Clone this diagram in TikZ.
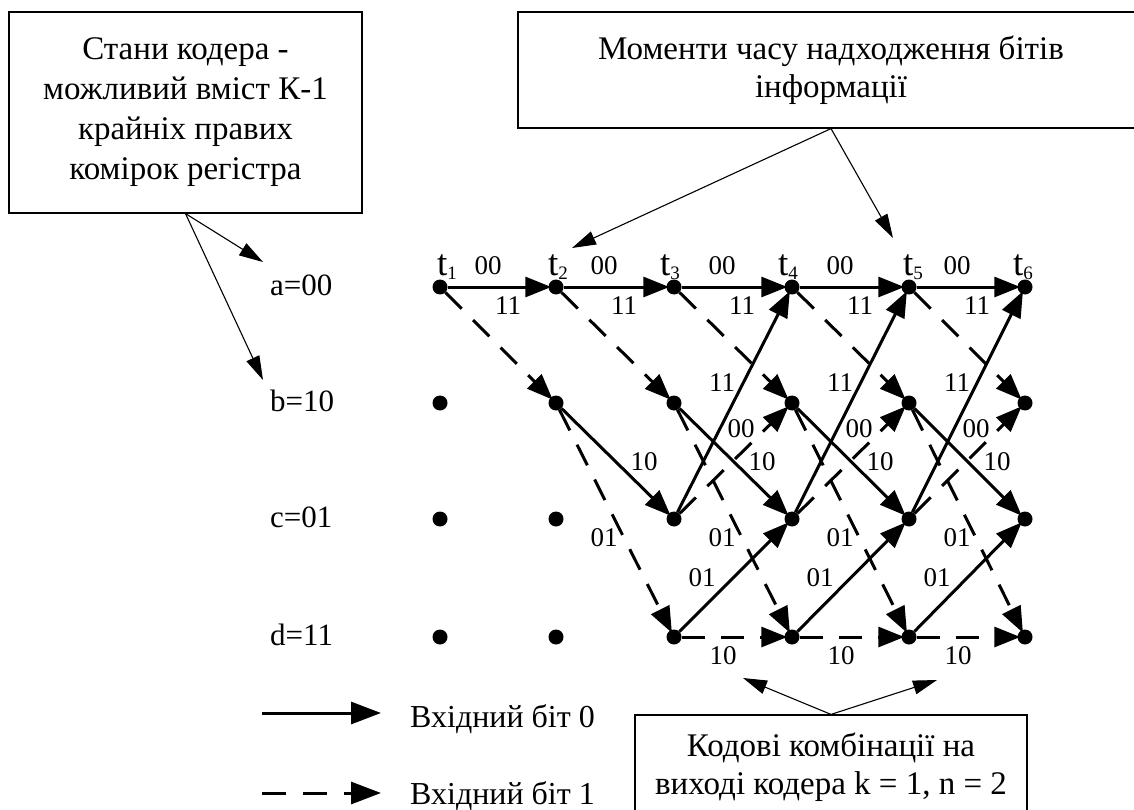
\documentclass[tikz,border=0pt]{standalone}
\usepackage{fontspec}
\setmainfont{Liberation Serif}
\usetikzlibrary{arrows.meta}
\newcommand\tsub[1]{\raisebox{-4pt}{\fontsize{19}{19}\selectfont #1}}
\begin{document}
\begin{tikzpicture}[x=1pt,y=-1pt,
  dot/.style={circle,fill=black,inner sep=0pt,minimum size=15pt},
  zero/.style={line width=3pt,-{Triangle[length=26pt,width=20pt]},shorten >=-3pt},
  one/.style={zero,dash pattern=on 23pt off 16pt},
  legzero/.style={line width=3pt,-{Triangle[length=30pt,width=22pt]}},
  legone/.style={legzero,dash pattern=on 24pt off 17pt},
  lbl/.style={inner sep=0pt,font=\fontsize{27}{27}\selectfont},
  tlab/.style={inner sep=0pt,anchor=base west,font=\fontsize{37}{37}\selectfont},
  st/.style={inner sep=0pt,anchor=west,font=\fontsize{31}{31}\selectfont},
  leg/.style={inner sep=0pt,anchor=west,font=\fontsize{32}{32}\selectfont},
  note/.style={draw,line width=1.2pt,inner sep=0pt,align=center},
  ptr/.style={line width=1.1pt,-{Triangle[length=24pt,width=14pt]}},
]
\useasboundingbox (0,0) rectangle (1134,810);
\clip (0,0) rectangle (1134,810);
\fill[white] (0,0) rectangle (1134,810);

% grid dots
\foreach \c/\x in {1/440,2/556,3/674,4/792,5/909,6/1025}{
  \foreach \r/\y in {a/287,b/403,c/519,d/637}{
    \node[dot] (\r\c) at (\x,\y) {};
  }
}

% time labels
\node[tlab] (tl1) at (437,275) {t\tsub{1}};
\node[tlab] (tl2) at (548,275) {t\tsub{2}};
\node[tlab] (tl3) at (660,275) {t\tsub{3}};
\node[tlab] (tl4) at (778,275) {t\tsub{4}};
\node[tlab] (tl5) at (903,275) {t\tsub{5}};
\node[tlab] (tl6) at (1013,275) {t\tsub{6}};

% state labels
\node[st] (sa) at (270,285) {a=00};
\node[st] (sb) at (270,401) {b=10};
\node[st] (sc) at (270,517) {c=01};
\node[st] (sd) at (270,635) {d=11};

% transitions from state a
\foreach \i/\j/\x in {1/2/440,2/3/556,3/4/674,4/5/792,5/6/909}{
  \draw[zero] (a\i) -- (a\j);
  \draw[one] (a\i) -- (b\j);
  \node[lbl] (laa\i) at (\x+48,266) {00};
  \node[lbl] (lab\i) at (\x+68,306) {11};
}
% transitions from state b
\foreach \i/\j/\x in {2/3/556,3/4/674,4/5/792,5/6/909}{
  \draw[zero] (b\i) -- (c\j);
  \draw[one] (b\i) -- (d\j);
  \node[lbl] (lbc\i) at (\x+88,462) {10};
  \node[lbl] (lbd\i) at (\x+48,538) {01};
}
% transitions from states c and d
\foreach \i/\j/\x in {3/4/674,4/5/792,5/6/909}{
  \draw[zero] (c\i) -- (a\j);
  \draw[one] (c\i) -- (b\j);
  \draw[zero] (d\i) -- (c\j);
  \draw[one] (d\i) -- (d\j);
  \node[lbl] (lca\i) at (\x+48,383) {11};
  \node[lbl] (lcb\i) at (\x+67,429) {00};
  \node[lbl] (ldc\i) at (\x+28,578) {01};
  \node[lbl] (ldd\i) at (\x+49,656) {10};
}

% annotation boxes
\node[note,minimum width=353pt,minimum height=201pt,font=\fontsize{33}{40}\selectfont]
  (boxS) at (185.5,112.5) {Стани кодера -\\можливий вміст К-1\\крайніх правих\\комірок регістра};
\node[note,minimum width=626pt,minimum height=116pt,font=\fontsize{33}{38}\selectfont]
  (boxT) at (831,70) {Моменти часу надходження бітів\\інформації};
\node[note,minimum width=392pt,minimum height=104pt,font=\fontsize{33}{38}\selectfont]
  (boxK) at (831,767) {Кодові комбінації на\\виході кодера k = 1, n = 2};

% annotation pointers
\coordinate (pA) at (263,262);
\coordinate (pB) at (263,380);
\coordinate (pT2) at (572,248);
\coordinate (pT5) at (893,238);
\coordinate (pL) at (743,678);
\coordinate (pR) at (937,680);
\draw[ptr] (boxS.south) -- (pA);
\draw[ptr] (boxS.south) -- (pB);
\draw[ptr] (boxT.south) -- (pT2);
\draw[ptr] (boxT.south) -- (pT5);
\draw[ptr] (boxK.north) -- (pL);
\draw[ptr] (boxK.north) -- (pR);

% legend
\coordinate (ls0) at (262,713);
\coordinate (le0) at (381,713);
\coordinate (ls1) at (262,793);
\coordinate (le1) at (381,793);
\draw[legzero] (ls0) -- (le0);
\draw[legone] (ls1) -- (le1);
\node[leg] (leg0) at (410,719) {Вхідний біт 0};
\node[leg] (leg1) at (410,796) {Вхідний біт 1};
\end{tikzpicture}
\end{document}
